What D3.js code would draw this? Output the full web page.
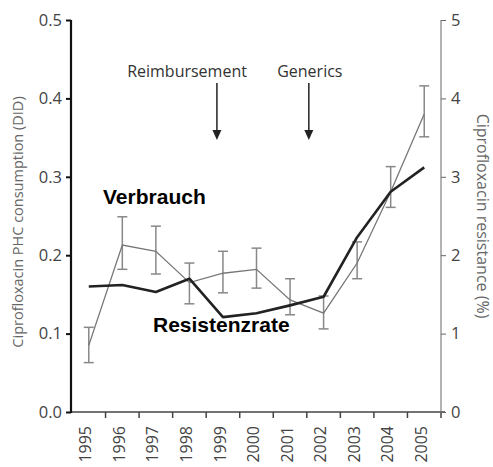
<!DOCTYPE html>
<html><head><meta charset="utf-8">
<script src="https://cdn.jsdelivr.net/npm/d3@7"></script>
<style>
body{margin:0;background:#fff;}
svg{display:block;}
</style></head>
<body><svg id="c" width="493" height="467"></svg>
<script>
const years = ["1995","1996","1997","1998","1999","2000","2001","2002","2003","2004","2005"];
const consumption = [0.160,0.162,0.153,0.170,0.121,0.126,0.136,0.147,0.223,0.281,0.312];
const resistance = [0.85,2.13,2.05,1.65,1.77,1.82,1.43,1.26,1.90,2.81,3.80];
const resistanceLow = [0.63,1.82,1.76,1.38,1.52,1.58,1.24,1.06,1.70,2.61,3.51];
const resistanceHigh = [1.08,2.49,2.37,1.90,2.05,2.09,1.70,1.48,2.17,3.13,4.16];
const leftTicks = [0,0.1,0.2,0.3,0.4,0.5];
const rightTicks = [0,1,2,3,4,5];
const events = [{label:"Reimbursement", year:1998.82, anchor:"end", dx:30},
                {label:"Generics", year:2001.56, anchor:"middle", dx:1}];

const svg = d3.select("#c");
const x = d3.scaleBand().domain(years).range([72,441]).padding(0);
const bw = x.bandwidth();
const cx = y => x(y) + bw/2;
const fx = v => x.range()[0] + (v - 1995 + 0.5)*bw;
const yL = d3.scaleLinear().domain([0,0.5]).range([412,20]);
const yR = d3.scaleLinear().domain([0,5]).range([412,20]);
const font = "'Open Sans', sans-serif";

// x axis line
svg.append("line").attr("x1",71).attr("x2",445).attr("y1",yL(0)).attr("y2",yL(0))
  .attr("stroke","#444").attr("stroke-width",1.5);
// x ticks at band boundaries
const bounds = years.map(y=>x(y)).concat([x.range()[1]]);
svg.selectAll(".xt").data(bounds.slice(1)).join("line")
  .attr("x1",d=>d).attr("x2",d=>d).attr("y1",yL(0)).attr("y2",yL(0)+6)
  .attr("stroke","#444").attr("stroke-width",1.5);
// x labels
svg.selectAll(".xl").data(years).join("text")
  .attr("transform",d=>`translate(${cx(d)-3},${yL(0)+14}) rotate(-90)`)
  .attr("text-anchor","end").attr("dy","0.35em")
  .attr("font-family",font).attr("font-size",16).attr("fill","#444").text(d=>d);

// left axis
const la = svg.append("g").attr("transform","translate(71,0)")
  .call(d3.axisLeft(yL).tickValues(leftTicks).tickFormat(d3.format(".1f")).tickSize(5).tickPadding(4));
la.select(".domain").attr("stroke","#111").attr("stroke-width",2.2).attr("d","M0,20V413");
la.selectAll(".tick line").attr("stroke","#111").attr("stroke-width",2);
la.selectAll(".tick text").attr("font-family",font).attr("font-size",16.5).attr("fill","#444");

// right axis
const ra = svg.append("g").attr("transform","translate(441,0)")
  .call(d3.axisRight(yR).tickValues(rightTicks).tickFormat(d3.format("d")).tickSize(5).tickPadding(5));
ra.select(".domain").attr("stroke","#666").attr("stroke-width",1).attr("d","M0,20V413");
ra.selectAll(".tick line").attr("stroke","#666").attr("stroke-width",1);
ra.selectAll(".tick text").attr("font-family",font).attr("font-size",16.5).attr("fill","#444");

// axis titles
svg.append("text").attr("transform","translate(18,222) rotate(-90)").attr("text-anchor","middle")
  .attr("dy","0.35em").attr("font-family",font).attr("font-size",14.5).attr("fill","#666")
  .text("Ciprofloxacin PHC consumption (DID)");
svg.append("text").attr("transform","translate(483,216) rotate(90)").attr("text-anchor","middle")
  .attr("dy","0.35em").attr("font-family",font).attr("font-size",16).attr("fill","#666")
  .text("Ciprofloxacin resistance (%)");

// error bars
const eb = svg.append("g").attr("stroke","#888").attr("stroke-width",1.5);
years.forEach((yr,i)=>{
  const X = cx(yr);
  eb.append("line").attr("x1",X).attr("x2",X).attr("y1",yR(resistanceLow[i])).attr("y2",yR(resistanceHigh[i]));
  eb.append("line").attr("x1",X-5).attr("x2",X+5).attr("y1",yR(resistanceLow[i])).attr("y2",yR(resistanceLow[i]));
  eb.append("line").attr("x1",X-5).attr("x2",X+5).attr("y1",yR(resistanceHigh[i])).attr("y2",yR(resistanceHigh[i]));
});
// resistance line
svg.append("path").datum(resistance)
  .attr("d",d3.line().x((d,i)=>cx(years[i])).y(d=>yR(d)))
  .attr("fill","none").attr("stroke","#777").attr("stroke-width",1.3);
// consumption line
svg.append("path").datum(consumption)
  .attr("d",d3.line().x((d,i)=>cx(years[i])).y(d=>yL(d)))
  .attr("fill","none").attr("stroke","#222").attr("stroke-width",2.6).attr("stroke-linejoin","round");

// event annotations
events.forEach(e=>{
  const X = fx(e.year);
  svg.append("text").attr("x",X+e.dx).attr("y",77).attr("text-anchor",e.anchor)
    .attr("font-family",font).attr("font-size",16).attr("fill","#333").text(e.label);
  svg.append("line").attr("x1",X).attr("x2",X).attr("y1",83).attr("y2",131)
    .attr("stroke","#222").attr("stroke-width",1.5);
  svg.append("path").attr("d",`M${X-4.5},130L${X+4.5},130L${X},140Z`).attr("fill","#222");
});

// series labels
svg.append("text").attr("x",103).attr("y",204).attr("font-family","'Liberation Sans', Arial, sans-serif")
  .attr("font-weight","bold").attr("font-size",21).attr("fill","#000").text("Verbrauch");
svg.append("text").attr("x",153).attr("y",332).attr("font-family","'Liberation Sans', Arial, sans-serif")
  .attr("font-weight","bold").attr("font-size",21).attr("fill","#000").text("Resistenzrate");
</script></body></html>
